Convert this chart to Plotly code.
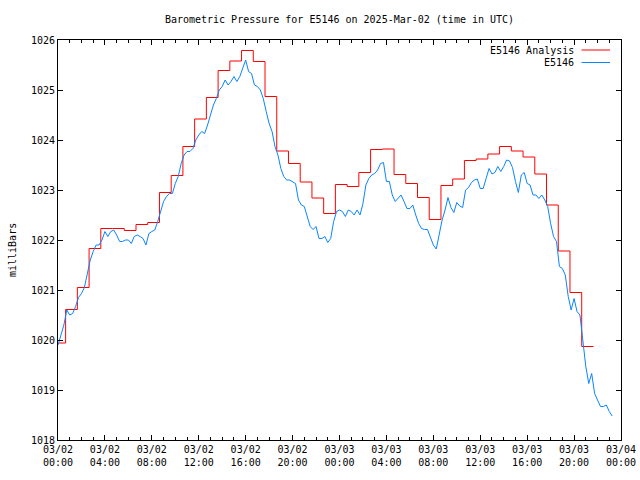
import pandas as pd
import plotly.graph_objects as go

# ---------------- data ----------------
station = "E5146"
analysis_name = "E5146 Analysis"
title_text = "Barometric Pressure for E5146 on 2025-Mar-02 (time in UTC)"
y_label = "milliBars"

start = pd.Timestamp("2025-03-02 00:00")
end = pd.Timestamp("2025-03-04 00:00")

# Hourly analysis values (each valid from HH:39 to next HH:39)
analysis_values = [
    1019.94, 1020.61, 1021.05, 1021.83, 1022.23, 1022.23, 1022.19, 1022.31,
    1022.35, 1022.95, 1023.29, 1023.87, 1024.42, 1024.85, 1025.39, 1025.58,
    1025.79, 1025.57, 1024.87, 1023.78, 1023.53, 1023.16, 1022.84, 1022.53,
    1023.11, 1023.07, 1023.35, 1023.81, 1023.82, 1023.31, 1023.13, 1022.85,
    1022.41, 1023.09, 1023.22, 1023.59, 1023.62, 1023.72, 1023.87, 1023.78,
    1023.66, 1023.32, 1022.70, 1021.78, 1020.95, 1019.87,
]
analysis_first_time = pd.Timestamp("2025-03-02 00:05")
analysis_step_offset_min = 39

# Station observations every 15 minutes from 03/02 00:00
obs_values = [
    1019.90, 1020.10, 1020.30, 1020.60,
    1020.50, 1020.53, 1020.67, 1020.85,
    1020.93, 1021.05, 1021.30, 1021.60,
    1021.77, 1021.90, 1021.90, 1022.00,
    1022.17, 1022.07, 1022.17, 1022.20,
    1022.10, 1021.97, 1021.97, 1022.00,
    1022.00, 1021.93, 1022.07, 1022.10,
    1022.07, 1022.03, 1021.90, 1022.13,
    1022.17, 1022.20, 1022.37, 1022.60,
    1022.77, 1022.87, 1022.93, 1022.93,
    1023.13, 1023.27, 1023.53, 1023.70,
    1023.77, 1023.77, 1023.83, 1024.00,
    1024.10, 1024.17, 1024.13, 1024.30,
    1024.50, 1024.70, 1024.83, 1025.00,
    1025.07, 1025.20, 1025.10, 1025.17,
    1025.27, 1025.17, 1025.27, 1025.43,
    1025.60, 1025.37, 1025.33, 1025.10,
    1025.07, 1025.00, 1024.83, 1024.57,
    1024.33, 1024.17, 1023.87, 1023.70,
    1023.43, 1023.27, 1023.20, 1023.20,
    1023.17, 1023.13, 1022.80, 1022.70,
    1022.67, 1022.47, 1022.27, 1022.21,
    1022.27, 1022.03, 1022.03, 1022.07,
    1021.95, 1022.03, 1022.37, 1022.57,
    1022.60, 1022.57, 1022.47, 1022.60,
    1022.57, 1022.50, 1022.60, 1022.50,
    1022.73, 1023.10, 1023.23, 1023.30,
    1023.33, 1023.40, 1023.53, 1023.55,
    1023.17, 1023.17, 1022.90, 1022.77,
    1022.83, 1022.90, 1022.77, 1022.63,
    1022.63, 1022.70, 1022.50, 1022.33,
    1022.23, 1022.21, 1022.21, 1022.07,
    1021.90, 1021.82, 1022.15, 1022.40,
    1022.60, 1022.85, 1022.65, 1022.55,
    1022.75, 1022.68, 1022.65, 1023.00,
    1023.05, 1023.15, 1023.20, 1023.22,
    1023.03, 1023.03, 1023.23, 1023.43,
    1023.32, 1023.35, 1023.47, 1023.37,
    1023.47, 1023.60, 1023.58, 1023.45,
    1023.17, 1022.95, 1023.30, 1023.35,
    1023.13, 1023.10, 1022.90, 1022.90,
    1022.83, 1022.90, 1022.80, 1022.67,
    1022.33, 1022.07, 1021.97, 1021.47,
    1021.43, 1021.30, 1020.87, 1020.60,
    1020.83, 1020.57, 1020.50, 1019.93,
    1019.47, 1019.13, 1019.33, 1018.93,
    1018.80, 1018.67, 1018.67, 1018.70,
    1018.57, 1018.48,
]

y_ticks = [1018, 1019, 1020, 1021, 1022, 1023, 1024, 1025, 1026]

# ---------------- build x values ----------------
obs_times = pd.date_range(start, periods=len(obs_values), freq="15min")

an_times = [analysis_first_time]
for i in range(1, len(analysis_values)):
    an_times.append(start + pd.Timedelta(hours=i - 1, minutes=analysis_step_offset_min))
an_times.append(an_times[-1] + pd.Timedelta(hours=1))
an_vals = analysis_values + [analysis_values[-1]]

RED = "#ff0000"
BLUE = "#0a84ff"
FONT = "DejaVu Sans Mono"

fig = go.Figure()
fig.add_trace(go.Scatter(x=an_times, y=an_vals, mode="lines", name=analysis_name,
                         line=dict(color=RED, width=1, shape="hv")))
fig.add_trace(go.Scatter(x=obs_times, y=obs_values, mode="lines", name=station,
                         line=dict(color=BLUE, width=1)))

L, R, T, B = 58, 19, 40, 40
W, H = 640, 480
pw, ph = W - L - R, H - T - B

axis_common = dict(showline=True, linecolor="black", linewidth=1, mirror="ticks",
                   ticks="inside", tickcolor="black", ticklen=5, tickwidth=1,
                   showgrid=False, zeroline=False, automargin=False,
                   tickfont=dict(family=FONT, size=10, color="black"))

fig.update_layout(
    width=W, height=H,
    margin=dict(l=L, r=R, t=T, b=B),
    paper_bgcolor="white", plot_bgcolor="white",
    showlegend=False,
    title=dict(text=title_text, x=(L + pw / 2) / W, xanchor="center",
               y=1 - 19.5 / H, yanchor="middle", yref="container",
               font=dict(family=FONT, size=10, color="black")),
    xaxis=dict(range=[start, end], type="date", dtick=4 * 3600 * 1000,
               tick0=start, tickformat="%m/%d<br>%H:%M",
               minor=dict(dtick=3600 * 1000, ticks="inside", ticklen=3,
                          tickcolor="black", showgrid=False),
               **axis_common),
    yaxis=dict(range=[y_ticks[0], y_ticks[-1]], tickvals=y_ticks,
               ticktext=[str(v) for v in y_ticks], **axis_common),
)

# y-axis label
fig.add_annotation(text=y_label, xref="paper", yref="paper",
                   x=(12 - L) / pw, y=(H - B - 250) / ph, textangle=-90,
                   showarrow=False, xanchor="center", yanchor="middle",
                   font=dict(family=FONT, size=10, color="black"))

# gnuplot style key (text then sample line)
key_rows = [(analysis_name, RED, 50), (station, BLUE, 62.5)]
for name, col, ypix in key_rows:
    yp = (H - B - ypix) / ph
    fig.add_annotation(text=name, xref="paper", yref="paper",
                       x=(576 - L) / pw, y=yp, xanchor="right", yanchor="middle",
                       showarrow=False,
                       font=dict(family=FONT, size=10, color="black"))
    fig.add_shape(type="line", xref="paper", yref="paper",
                  x0=(581.5 - L) / pw, x1=(610 - L) / pw, y0=yp, y1=yp,
                  line=dict(color=col, width=1))

fig.write_html("out.html")
